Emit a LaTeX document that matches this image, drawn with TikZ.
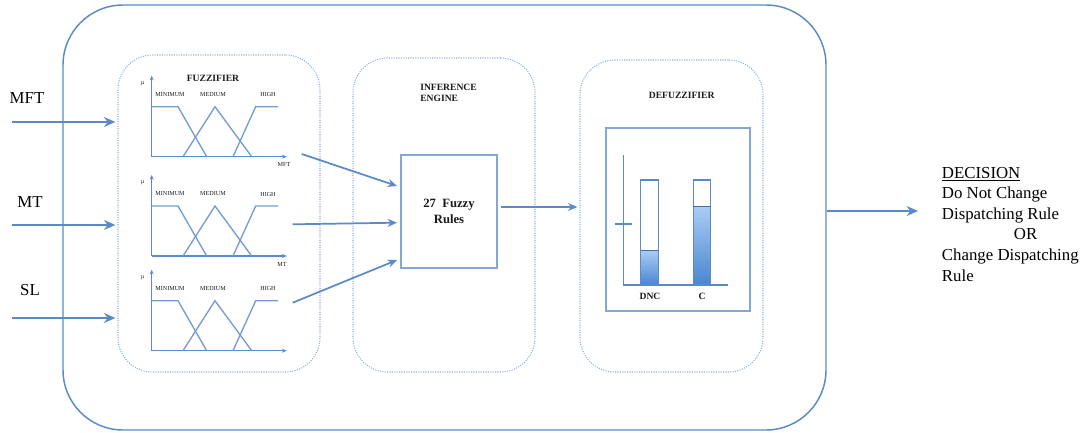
\documentclass[tikz,border=0pt]{standalone}
\usepackage{fontspec}
\setmainfont{Liberation Serif}
\usetikzlibrary{arrows.meta}
\definecolor{lineblue}{HTML}{5A8BC7}
\definecolor{dotblue}{HTML}{8DAEDA}
\definecolor{barlight}{HTML}{A9CCF4}
\definecolor{bardark}{HTML}{4A86CF}
\definecolor{inktext}{HTML}{1A1A1A}

\tikzset{
  outerbox/.style={draw=lineblue, line width=1.1pt, rounded corners=45pt, inner sep=0pt, outer sep=0pt},
  stagebox/.style={draw=dotblue, densely dotted, line width=0.8pt, rounded corners=26pt, inner sep=0pt, outer sep=0pt},
  plainbox/.style={draw=dotblue!80!lineblue, line width=0.9pt, inner sep=0pt, outer sep=0pt},
  flow/.style={draw=lineblue, line width=2.2pt, -{Stealth[length=8.5pt,width=7.5pt]}},
  link/.style={draw=lineblue, line width=1.3pt, -{Stealth[length=7pt,width=6pt]}},
  axis/.style={draw=lineblue, line width=1pt, -{Stealth[length=3.5pt,width=3pt]}},
  mfline/.style={draw=lineblue!85, line width=1pt},
  tinylabel/.style={font=\fontsize{4.6}{5}\selectfont, text=inktext, inner sep=0pt},
  titlelabel/.style={font=\fontsize{7.2}{8.6}\selectfont\bfseries, text=inktext, inner sep=0pt},
  biglabel/.style={font=\fontsize{12.6}{15.4}\selectfont, text=black, inner sep=0pt},
  % membership-function plot: origin at the axis corner
  mfplot/.pic={
    \draw[axis] (0,0) -- (135,0);
    \draw[axis] (0,0) -- (0,-81);
    \draw[mfline] (0,-50) -- (26.3,-50) -- (55,0);
    \draw[mfline] (31.3,0) -- (63.3,-50) -- (100,0);
    \draw[mfline] (81.3,0) -- (104,-50) -- (126.3,-50);
    \node[tinylabel] (-min) at (18.3,-62) {MINIMUM};
    \node[tinylabel] (-med) at (61.3,-62) {MEDIUM};
    \node[tinylabel] (-high) at (116.3,-62) {HIGH};
    \node[tinylabel] (-mu) at (-9,-73) {μ};
  }
}

\begin{document}
\begin{tikzpicture}[x=0.75pt, y=-0.75pt]
\useasboundingbox (0,0) rectangle (1088,432);

% system frame and the three stages
\node[outerbox, minimum width=572.25pt, minimum height=318.75pt] (sys) at (444.5,217.5) {};
\node[stagebox, minimum width=151.5pt, minimum height=237.75pt] (fuzz) at (219,213.5) {};
\node[stagebox, minimum width=136.5pt, minimum height=235.5pt] (infer) at (444,215) {};
\node[stagebox, minimum width=137.25pt, minimum height=234pt] (defuzz) at (671.5,216) {};

% stage titles
\node[titlelabel] (fuzztitle) at (213,78) {FUZZIFIER};
\node[titlelabel, anchor=west, align=left] (infertitle) at (420,93) {INFERENCE\\ENGINE};
\node[titlelabel] (defuzztitle) at (681.7,95) {DEFUZZIFIER};

% fuzzifier plots
\pic (p1) at (151.7,156.7) {mfplot};
\pic (p2) at (151.7,256) {mfplot};
\pic (p3) at (151.7,350.7) {mfplot};
\node[tinylabel] (xmft) at (284,164) {MFT};
\node[tinylabel] (xmt) at (282,264) {MT};

% inputs
\node[biglabel] (mft) at (27,98) {MFT};
\node[biglabel] (mt) at (30,202) {MT};
\node[biglabel] (sl) at (30,290) {SL};
\coordinate (in1) at (12,122);
\coordinate (in2) at (12,225);
\coordinate (in3) at (12,318);
\draw[flow] (in1) -- ([xshift=-2pt]fuzz.west |- in1);
\draw[flow] (in2) -- ([xshift=-2pt]fuzz.west |- in2);
\draw[flow] (in3) -- ([xshift=-2pt]fuzz.west |- in3);

% rule base
\node[plainbox, minimum width=72pt, minimum height=84.75pt,
      font=\fontsize{9.5}{11.5}\selectfont\bfseries, text=inktext, align=center] (rules) at (449,211.5) {27~~Fuzzy\\Rules};
\coordinate (g1) at (301.7,154);
\coordinate (g2) at (292.7,224.3);
\coordinate (g3) at (292.7,302.7);
\draw[link] (g1) -- ([xshift=-3pt]rules.west |- 0,186);
\draw[link] (g2) -- ([xshift=-3pt]rules.west |- 0,222.7);
\draw[link] (g3) -- ([xshift=-3pt]rules.west |- 0,260);
\draw[link] ([xshift=3pt]rules.east |- 0,207) -- ([xshift=-2pt]defuzz.west |- 0,207);

% defuzzifier bar chart
\node[plainbox, minimum width=108pt, minimum height=137.25pt] (chart) at (678,219.5) {};
\shade[top color=barlight, bottom color=bardark] (640.7,250.7) rectangle (658.3,285);
\shade[top color=barlight, bottom color=bardark] (693.3,206.7) rectangle (710.7,285);
\draw[lineblue, line width=0.9pt] (640.7,285) rectangle (658.3,180);
\draw[lineblue, line width=0.9pt] (693.3,285) rectangle (710.7,180);
\draw[lineblue!80!black, line width=1pt] (640.7,250.7) -- (658.3,250.7);
\draw[lineblue!80!black, line width=1pt] (693.3,206.7) -- (710.7,206.7);
\draw[lineblue, line width=1pt] (623.3,155) -- (623.3,285) -- (727.7,285);
\draw[lineblue, line width=1pt] (615,224) -- (631.7,224);
\node[titlelabel] (dnc) at (650,296) {DNC};
\node[titlelabel] (cbar) at (702,296) {C};

% decision output
\node[biglabel, anchor=north west, align=left] (dec) at (941.7,167)
  {\underline{DECISION}\\Do Not Change\\Dispatching Rule\\\hspace*{54pt}OR\\Change Dispatching\\Rule};
\draw[flow] ([xshift=1pt]sys.east |- 0,211) -- (918,211);
\end{tikzpicture}
\end{document}
